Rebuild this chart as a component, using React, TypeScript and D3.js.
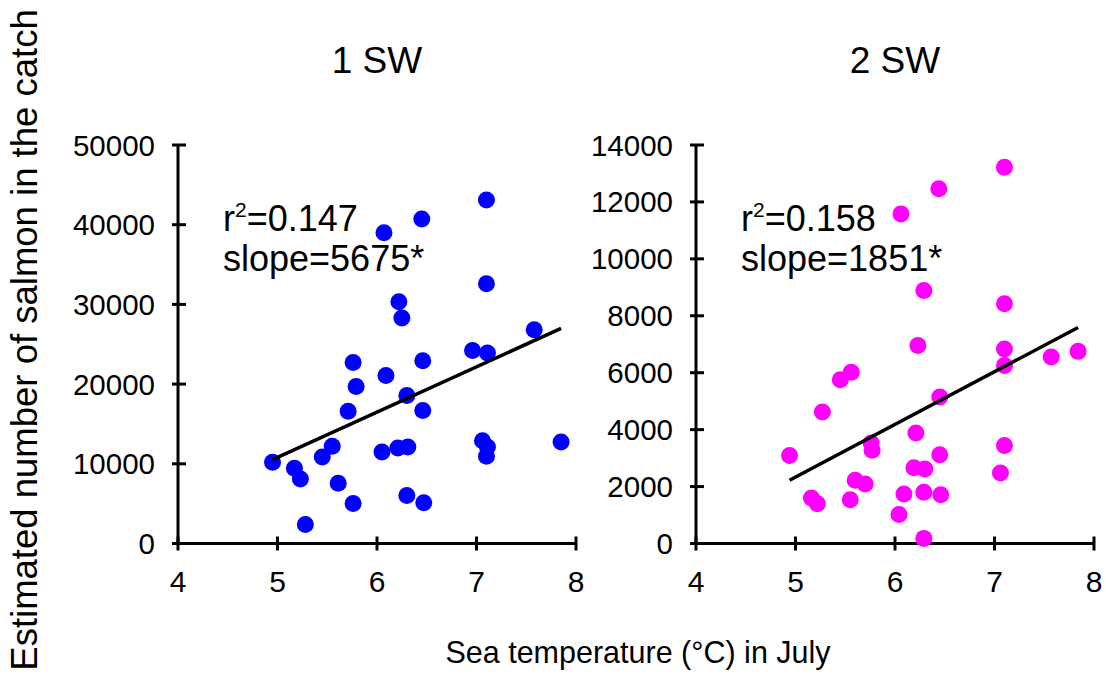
import React from "react";
import * as d3 from "d3";

const temp1 = [7.10, 6.45, 6.07, 7.10, 6.22, 6.25, 7.58, 6.96, 7.11, 5.76, 6.46, 6.09, 5.79, 6.30, 6.46, 5.71, 7.06, 7.11, 7.10, 7.85, 5.55, 5.45, 4.95, 5.17, 5.23, 6.05, 6.21, 6.31, 5.61, 6.30, 6.47, 5.76, 5.28];
const catch1 = [43100, 40720, 39000, 32580, 30320, 28280, 26810, 24220, 23890, 22720, 22930, 21090, 19710, 18580, 16700, 16580, 12900, 12110, 10940, 12740, 12190, 10860, 10190, 9440, 8100, 11490, 11990, 12110, 7560, 6010, 5100, 5010, 2380];

const temp2 = [7.10, 6.44, 6.06, 6.29, 7.10, 6.23, 7.10, 7.57, 7.84, 7.10, 5.56, 5.45, 5.27, 6.45, 6.21, 5.76, 5.77, 4.94, 7.10, 6.45, 6.19, 6.30, 7.06, 5.60, 5.70, 5.16, 5.22, 5.55, 6.09, 6.29, 6.46, 6.04, 6.29];
const catch2 = [13220, 12460, 11580, 8890, 8420, 6960, 6830, 6550, 6750, 6250, 6020, 5750, 4620, 5150, 3880, 3530, 3280, 3090, 3440, 3120, 2660, 2620, 2480, 2220, 2090, 1600, 1400, 1540, 1740, 1800, 1710, 1020, 180];

const xTicks = [4, 5, 6, 7, 8];
const yTicks1 = [0, 10000, 20000, 30000, 40000, 50000];
const yTicks2 = [0, 2000, 4000, 6000, 8000, 10000, 12000, 14000];

const titles = ["1 SW", "2 SW"];
const r2Labels = ["0.147", "0.158"];
const slopeLabels = ["slope=5675*", "slope=1851*"];
const slopes = [5675, 1851];
const intercepts = [-17560, -6924];

const FONT = "'Liberation Sans', Arial, Helvetica, sans-serif";

type PanelProps = {
  x0: number;
  temps: number[];
  catches: number[];
  yMax: number;
  yTicks: number[];
  color: string;
  idx: number;
};

function Panel({ x0, temps, catches, yMax, yTicks, color, idx }: PanelProps) {
  const x = d3.scaleLinear().domain([4, 8]).range([x0, x0 + 398]);
  const y = d3.scaleLinear().domain([0, yMax]).range([543.5, 145]);
  const [tMin, tMax] = d3.extent(temps) as [number, number];
  const line = d3
    .line<number>()
    .x((t) => x(t))
    .y((t) => y(intercepts[idx] + slopes[idx] * t));
  const axisColor = "#000";
  return (
    <g>
      <text
        x={(x(4) + x(8)) / 2}
        y={73}
        textAnchor="middle"
        fontSize={37}
        fontFamily={FONT}
      >
        {titles[idx]}
      </text>
      <line x1={x(4)} x2={x(4)} y1={y(0)} y2={y(yMax)} stroke={axisColor} strokeWidth={3} />
      {yTicks.map((t) => (
        <g key={"y" + t}>
          <line x1={x(4) - 6} x2={x(4) + 8} y1={y(t)} y2={y(t)} stroke={axisColor} strokeWidth={3} />
          <text
            x={x(4) - 23}
            y={y(t) + 10.5}
            textAnchor="end"
            fontSize={29.5}
            fontFamily={FONT}
          >
            {t}
          </text>
        </g>
      ))}
      <line x1={x(4)} x2={x(8)} y1={y(0)} y2={y(0)} stroke={axisColor} strokeWidth={3} />
      {xTicks.map((t) => (
        <g key={"x" + t}>
          <line x1={x(t)} x2={x(t)} y1={y(0) - 7} y2={y(0) + 7} stroke={axisColor} strokeWidth={3} />
          <text x={x(t)} y={592} textAnchor="middle" fontSize={30} fontFamily={FONT}>
            {t}
          </text>
        </g>
      ))}
      {temps.map((t, i) => (
        <circle key={i} cx={x(t)} cy={y(catches[i])} r={8.5} fill={color} />
      ))}
      <path d={line([tMin, tMax]) || ""} stroke="#000" strokeWidth={3.5} fill="none" />
      <text x={x(4) + 45} y={231} fontSize={36} fontFamily={FONT}>
        r
        <tspan fontSize={21} dy={-14}>2</tspan>
        <tspan dy={14}>{"=" + r2Labels[idx]}</tspan>
      </text>
      <text x={x(4) + 45} y={271} fontSize={36} fontFamily={FONT}>
        {slopeLabels[idx]}
      </text>
    </g>
  );
}

export default function App() {
  return (
    <div style={{ position: "absolute", left: 0, top: 0 }}>
      <svg width={1106} height={677} style={{ display: "block", background: "#fff" }}>
        <rect width={1106} height={677} fill="#fff" />
        <Panel x0={178} temps={temp1} catches={catch1} yMax={50000} yTicks={yTicks1} color="#0000FF" idx={0} />
        <Panel x0={696} temps={temp2} catches={catch2} yMax={14000} yTicks={yTicks2} color="#FF00FF" idx={1} />
        <text
          transform="translate(37,340) rotate(-90)"
          textAnchor="middle"
          fontSize={36.5}
          fontFamily={FONT}
        >
          Estimated number of salmon in the catch
        </text>
        <text x={638} y={663} textAnchor="middle" fontSize={30.5} fontFamily={FONT}>
          Sea temperature (°C) in July
        </text>
      </svg>
    </div>
  );
}
